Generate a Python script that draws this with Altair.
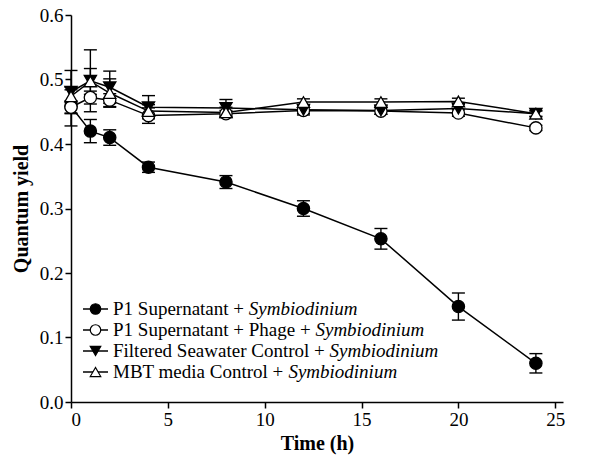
import altair as alt
import pandas as pd

# ---------------- data ----------------
times = [0, 1, 2, 4, 8, 12, 16, 20, 24]

series_prefix = ["P1 Supernatant + ", "P1 Supernatant + Phage + ",
                 "Filtered Seawater Control + ", "MBT media Control + "]
series_suffix = ["Symbiodinium"] * 4

p1_vals = [0.458, 0.420, 0.410, 0.364, 0.341, 0.300, 0.253, 0.148, 0.060]
p1_err = [0.030, 0.018, 0.012, 0.008, 0.010, 0.012, 0.016, 0.021, 0.015]

phage_vals = [0.457, 0.472, 0.468, 0.444, 0.447, 0.452, 0.451, 0.448, 0.425]
phage_err = [0.010, 0.010, 0.010, 0.012, 0.005, 0.005, 0.005, 0.005, 0.004]

fsw_vals = [0.481, 0.498, 0.488, 0.457, 0.456, 0.453, 0.452, 0.455, 0.447]
fsw_err = [0.033, 0.048, 0.025, 0.018, 0.013, 0.008, 0.006, 0.008, 0.005]

mbt_vals = [0.474, 0.497, 0.479, 0.451, 0.449, 0.465, 0.465, 0.466, 0.447]
mbt_err = [0.010, 0.020, 0.022, 0.010, 0.008, 0.005, 0.005, 0.005, 0.004]

y_ticks = [0.0, 0.1, 0.2, 0.3, 0.4, 0.5, 0.6]
x_ticks = [0, 5, 10, 15, 20, 25]

# ---------------- build tables ----------------
names = [a + b for a, b in zip(series_prefix, series_suffix)]
shapes = ["circle", "circle", "triangle-down", "triangle-up"]
fills = ["black", "white", "black", "white"]

rows = []
for name, vals, errs in zip(names, [p1_vals, phage_vals, fsw_vals, mbt_vals],
                            [p1_err, phage_err, fsw_err, mbt_err]):
    for t, v, e in zip(times, vals, errs):
        rows.append({"series": name, "time": t, "value": v,
                     "lo": v - e, "hi": v + e})
df = pd.DataFrame(rows)

# Times-Roman advance widths (per 1000 em) for laying out the legend text
TIMES = {" ": 250, "P": 556, "1": 500, "S": 556, "u": 500, "p": 500, "e": 444,
         "r": 333, "n": 500, "a": 444, "t": 278, "+": 564, "h": 500, "g": 500,
         "F": 556, "i": 278, "l": 278, "d": 500, "W": 944, "w": 722, "C": 667,
         "o": 500, "M": 889, "B": 667, "T": 611, "m": 778, "b": 500, "y": 500,
         "c": 444, "s": 389}
LEG_FS = 19
LEG_X_TEXT = 42  # relative to the plot area's left edge

leg = pd.DataFrame({
    "series": names,
    "idx": list(range(len(names))),
    "pre": series_prefix,
    "suf": series_suffix,
    "sufx": [LEG_X_TEXT + sum(TIMES.get(c, 500) for c in p) * LEG_FS / 1000.0
             for p in series_prefix],
})

FONT = "Liberation Serif"

x_scale = alt.Scale(domain=[0, 25.4], nice=False, zero=False)
y_scale = alt.Scale(domain=[0, 0.6], nice=False)
shape_scale = alt.Scale(domain=names, range=shapes)
fill_scale = alt.Scale(domain=names, range=fills)

base = alt.Chart(df)

x_enc = alt.X("time:Q", scale=x_scale,
              axis=alt.Axis(values=x_ticks, title="Time (h)", format="d",
                            labelFont=FONT, titleFont=FONT))
y_enc = alt.Y("value:Q", scale=y_scale,
              axis=alt.Axis(values=y_ticks, title="Quantum yield", format=".1f",
                            labelFont=FONT, titleFont=FONT))

lines = base.mark_line(color="black", strokeWidth=1.5).encode(
    x=x_enc, y=y_enc, detail="series:N")

err_rule = base.mark_rule(color="black", strokeWidth=1.4).encode(
    x=alt.X("time:Q", scale=x_scale), y=alt.Y("lo:Q", scale=y_scale), y2="hi:Q")
cap_hi = base.mark_rule(color="black", strokeWidth=1.4, xOffset=-6.5, x2Offset=6.5).encode(
    x=alt.X("time:Q", scale=x_scale), x2="time:Q", y=alt.Y("hi:Q", scale=y_scale))
cap_lo = base.mark_rule(color="black", strokeWidth=1.4, xOffset=-6.5, x2Offset=6.5).encode(
    x=alt.X("time:Q", scale=x_scale), x2="time:Q", y=alt.Y("lo:Q", scale=y_scale))

points = base.mark_point(filled=True, size=150, stroke="black", strokeWidth=1.3,
                         opacity=1).encode(
    x=alt.X("time:Q", scale=x_scale), y=alt.Y("value:Q", scale=y_scale),
    shape=alt.Shape("series:N", scale=shape_scale, legend=None),
    fill=alt.Fill("series:N", scale=fill_scale, legend=None))

# ---------------- custom legend (italic species name) ----------------
lbase = alt.Chart(leg).transform_calculate(ly="294 + 21 * datum.idx")
leg_line = lbase.mark_rule(color="black", strokeWidth=1.5).encode(
    x=alt.value(12), x2=alt.value(37), y=alt.Y("ly:Q", scale=None))
leg_pt = lbase.mark_point(filled=True, size=110, stroke="black", strokeWidth=1.2,
                          opacity=1).encode(
    x=alt.value(24.5), y=alt.Y("ly:Q", scale=None),
    shape=alt.Shape("series:N", scale=shape_scale, legend=None),
    fill=alt.Fill("series:N", scale=fill_scale, legend=None))
leg_txt = lbase.mark_text(align="left", baseline="middle", font=FONT,
                          fontSize=LEG_FS, color="black").encode(
    x=alt.value(LEG_X_TEXT), y=alt.Y("ly:Q", scale=None), text="pre:N")
leg_ital = lbase.mark_text(align="left", baseline="middle", font=FONT,
                           fontSize=LEG_FS, fontStyle="italic", color="black").encode(
    x=alt.X("sufx:Q", scale=None), y=alt.Y("ly:Q", scale=None), text="suf:N")

chart = alt.layer(
    lines, err_rule, cap_hi, cap_lo, points,
    leg_line, leg_pt, leg_txt, leg_ital
).properties(
    width=492, height=387,
    autosize=alt.AutoSizeParams(type="none"),
    padding={"left": 71, "top": 15, "right": 43, "bottom": 58},
).configure(font=FONT).configure_view(stroke=None).configure_axis(
    grid=False,
    domainColor="black", domainWidth=1.5,
    tickColor="black", tickWidth=1.5, tickSize=6,
    labelFont=FONT, labelFontSize=19, labelColor="black", labelPadding=2,
    titleFont=FONT, titleFontSize=20, titleFontWeight="bold", titleColor="black",
).configure_axisY(titlePadding=8).configure_axisX(titlePadding=4)

chart.save("out.html", embed_options={"renderer": "svg", "actions": False})
